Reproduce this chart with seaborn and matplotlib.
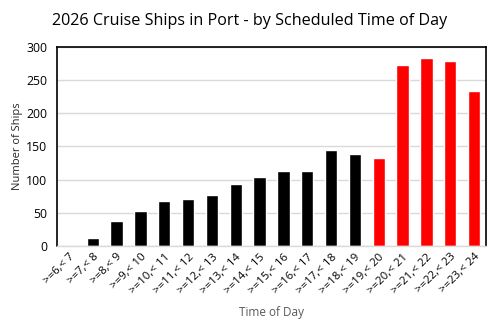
import matplotlib
matplotlib.use("Agg")
import matplotlib.pyplot as plt
import seaborn as sns
import pandas as pd

# Hour windows and number of ships scheduled in each
hours_start = list(range(6, 24))
ship_counts = [0, 12, 38, 53, 68, 71, 77, 94, 104, 113, 113, 145, 139,
               133, 273, 284, 279, 234]
evening_from = 19  # windows from this hour on are drawn in red

labels = [f">={h},< {h + 1}" for h in hours_start]
groups = ["evening" if h >= evening_from else "day" for h in hours_start]

df = pd.DataFrame({"window": labels, "ships": ship_counts, "group": groups})

sns.set_theme(style="white")
plt.rcParams["font.family"] = ["Open Sans", "DejaVu Sans"]

fig = plt.figure(figsize=(5.0, 3.31), dpi=100)
ax = fig.add_axes([0.114, 0.257, 0.858, 0.601])

sns.barplot(data=df, x="window", y="ships", hue="group",
            palette={"day": "#000000", "evening": "#ff0000"},
            width=0.52, dodge=False, legend=False, ax=ax, saturation=1)

ax.set_ylim(0, 300)
ax.set_yticks(range(0, 301, 50))
ax.set_xlim(-0.5, len(labels) - 0.5)
ax.yaxis.grid(True, color="#d9d9d9", linewidth=1)
ax.set_axisbelow(True)

for side in ("left", "top", "right"):
    ax.spines[side].set_color("black")
    ax.spines[side].set_linewidth(1.2)
ax.spines["bottom"].set_color("#d9d9d9")
ax.spines["bottom"].set_linewidth(1)

ax.tick_params(axis="y", length=0, labelsize=8.8, labelcolor="#000000", pad=7)
ax.tick_params(axis="x", length=0, labelsize=8.2, labelcolor="#000000", pad=4)
plt.setp(ax.get_xticklabels(), rotation=45, ha="right", rotation_mode="anchor")

ax.set_xlabel("Time of Day", fontsize=8.5, color="#595959", labelpad=7)
ax.set_ylabel("Number of Ships", fontsize=8, color="#262626", labelpad=2)

fig.suptitle("2026 Cruise Ships in Port - by Scheduled Time of Day",
             fontsize=11.6, color="#000000", y=0.962)

fig.savefig("out.png", dpi=100, facecolor="white")
